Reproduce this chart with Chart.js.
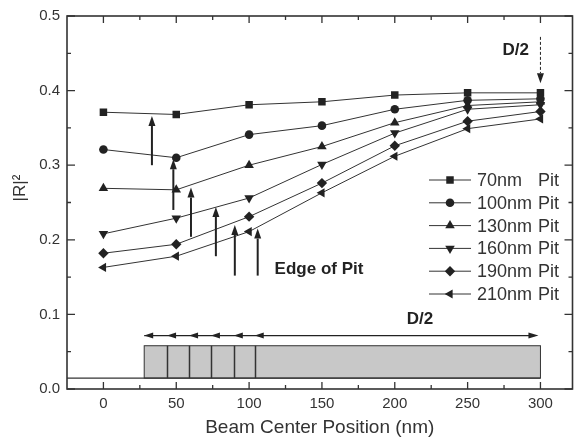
<!DOCTYPE html>
<html>
<head>
<meta charset="utf-8">
<script src="https://cdn.jsdelivr.net/npm/chart.js@4.4.0/dist/chart.umd.min.js"></script>
<style>
  body { margin: 0; background: #fff; }
  canvas { display: block; }
</style>
</head>
<body>
<canvas id="chart" width="578" height="439"></canvas>
<script>
// beam center positions (nm) and |R|^2 for each pit size
const positions = [0, 50, 100, 150, 200, 250, 300];
const pit70  = [0.371, 0.368, 0.381, 0.385, 0.394, 0.397, 0.397];
const pit100 = [0.321, 0.310, 0.341, 0.353, 0.375, 0.387, 0.389];
const pit130 = [0.269, 0.267, 0.300, 0.325, 0.357, 0.380, 0.385];
const pit160 = [0.208, 0.229, 0.256, 0.301, 0.343, 0.375, 0.381];
const pit190 = [0.182, 0.194, 0.231, 0.276, 0.326, 0.359, 0.372];
const pit210 = [0.163, 0.178, 0.211, 0.263, 0.312, 0.349, 0.362];
const pitNames = ['70nm', '100nm', '130nm', '160nm', '190nm', '210nm'];

const xTicks = [0, 50, 100, 150, 200, 250, 300];
const xMinor = [25, 75, 125, 175, 225, 275];
const yTicks = [0, 0.1, 0.2, 0.3, 0.4, 0.5];
const yMinor = [0.05, 0.15, 0.25, 0.35, 0.45];

// "edge of pit" arrows (data units)
const edgeArrowX    = [33.3, 48.0, 60.1, 77.2, 90.2, 105.9];
const edgeArrowFrom = [0.300, 0.240, 0.204, 0.178, 0.152, 0.152];
const edgeArrowTo   = [0.366, 0.308, 0.270, 0.244, 0.220, 0.215];
// pit edges drawn in the bar at the bottom
const pitEdges = [28, 43.7, 58.8, 73.8, 89.5, 103.9];
const halfD = 300;

const series = [pit70, pit100, pit130, pit160, pit190, pit210];
const markers = [
    { style: 'rect', rot: 0, r: 5.3 },
    { style: 'circle', rot: 0, r: 4.3 },
    { style: 'triangle', rot: 0, r: 5.5 },
    { style: 'triangle', rot: 180, r: 5.5 },
    { style: 'rectRot', rot: 0, r: 5.2 },
    { style: 'triangle', rot: -90, r: 5.3 }
];

const FONT = '"Liberation Sans", Arial, sans-serif';
const INK = '#222';

// arrow with a filled head at (x1, y1)
function arrow(ctx, x0, y0, x1, y1, len, half) {
    const ang = Math.atan2(y1 - y0, x1 - x0);
    const bx = x1 - Math.cos(ang) * len, by = y1 - Math.sin(ang) * len;
    ctx.beginPath();
    ctx.moveTo(x0, y0);
    ctx.lineTo(bx, by);
    ctx.stroke();
    ctx.beginPath();
    ctx.moveTo(x1, y1);
    ctx.lineTo(bx - Math.sin(ang) * half, by + Math.cos(ang) * half);
    ctx.lineTo(bx + Math.sin(ang) * half, by - Math.cos(ang) * half);
    ctx.closePath();
    ctx.fill();
}

const decor = {
    id: 'decor',
    beforeDatasetsDraw(chart) {
        const { ctx, chartArea: a, scales: { x, y } } = chart;
        ctx.save();
        // pit bar at the bottom
        const top = y.getPixelForValue(0.058), bot = y.getPixelForValue(0.0146);
        ctx.fillStyle = '#c8c8c8';
        ctx.fillRect(x.getPixelForValue(pitEdges[0]), top,
            x.getPixelForValue(halfD) - x.getPixelForValue(pitEdges[0]), bot - top);
        ctx.strokeStyle = '#333';
        ctx.lineWidth = 1;
        ctx.strokeRect(x.getPixelForValue(pitEdges[0]), top,
            x.getPixelForValue(halfD) - x.getPixelForValue(pitEdges[0]), bot - top);
        ctx.lineWidth = 1.5;
        pitEdges.slice(1).forEach(e => {
            const px = Math.round(x.getPixelForValue(e)) + 0.5;
            ctx.beginPath();
            ctx.moveTo(px, top);
            ctx.lineTo(px, bot);
            ctx.stroke();
        });
        ctx.lineWidth = 1.2;
        ctx.beginPath();
        ctx.moveTo(a.left, bot);
        ctx.lineTo(x.getPixelForValue(halfD), bot);
        ctx.stroke();

        // D/2 span arrow above the bar
        const ay = y.getPixelForValue(0.0716);
        ctx.fillStyle = INK;
        ctx.strokeStyle = INK;
        ctx.lineWidth = 1.2;
        ctx.beginPath();
        ctx.moveTo(x.getPixelForValue(pitEdges[0]), ay);
        ctx.lineTo(x.getPixelForValue(halfD) - 6, ay);
        ctx.stroke();
        pitEdges.forEach(e => {
            const px = x.getPixelForValue(e);
            arrow(ctx, px + 9, ay, px, ay, 9, 3);
        });
        arrow(ctx, x.getPixelForValue(halfD) - 12, ay, x.getPixelForValue(halfD) - 2, ay, 10, 3);
        ctx.restore();
    },
    afterDatasetsDraw(chart) {
        const { ctx, chartArea: a, scales: { x, y } } = chart;
        ctx.save();
        ctx.strokeStyle = '#333';
        ctx.fillStyle = INK;

        // frame and inward ticks on all four sides
        ctx.lineWidth = 1.6;
        ctx.strokeRect(a.left, a.top, a.right - a.left, a.bottom - a.top);
        ctx.lineWidth = 1.3;
        const vt = (v, len) => {
            const px = x.getPixelForValue(v);
            ctx.beginPath();
            ctx.moveTo(px, a.bottom); ctx.lineTo(px, a.bottom - len);
            ctx.moveTo(px, a.top); ctx.lineTo(px, a.top + len);
            ctx.stroke();
        };
        const ht = (v, len) => {
            const py = y.getPixelForValue(v);
            ctx.beginPath();
            ctx.moveTo(a.left, py); ctx.lineTo(a.left + len, py);
            ctx.moveTo(a.right, py); ctx.lineTo(a.right - len, py);
            ctx.stroke();
        };
        xTicks.forEach(v => vt(v, 7));
        xMinor.forEach(v => vt(v, 4));
        yTicks.forEach(v => ht(v, 8));
        yMinor.forEach(v => ht(v, 4));

        // edge of pit arrows
        ctx.strokeStyle = INK;
        ctx.lineWidth = 2;
        edgeArrowX.forEach((ex, i) => {
            const px = x.getPixelForValue(ex);
            arrow(ctx, px, y.getPixelForValue(edgeArrowFrom[i]), px, y.getPixelForValue(edgeArrowTo[i]), 10, 3.5);
        });

        // dotted D/2 arrow at the top right
        ctx.lineWidth = 1;
        ctx.setLineDash([3, 2]);
        const dx = x.getPixelForValue(halfD);
        ctx.beginPath();
        ctx.moveTo(dx, y.getPixelForValue(0.472));
        ctx.lineTo(dx, y.getPixelForValue(0.425));
        ctx.stroke();
        ctx.setLineDash([]);
        arrow(ctx, dx, y.getPixelForValue(0.425), dx, y.getPixelForValue(0.410), 10, 3.5);

        // labels
        ctx.textBaseline = 'middle';
        ctx.textAlign = 'center';
        ctx.font = 'bold 17px ' + FONT;
        ctx.fillText('D/2', x.getPixelForValue(283), y.getPixelForValue(0.4536));
        ctx.fillText('D/2', x.getPixelForValue(217.3), y.getPixelForValue(0.093));
        ctx.textAlign = 'left';
        ctx.fillText('Edge of Pit', x.getPixelForValue(117.5), y.getPixelForValue(0.160));

        // y axis title
        ctx.save();
        ctx.translate(20, 188);
        ctx.rotate(-Math.PI / 2);
        ctx.textAlign = 'center';
        ctx.font = '17px ' + FONT;
        ctx.fillStyle = '#333';
        ctx.fillText('|R|\u00b2', 0, 0);
        ctx.restore();

        // legend
        ctx.font = '18px ' + FONT;
        ctx.fillStyle = INK;
        ctx.lineWidth = 1;
        pitNames.forEach((name, i) => {
            const ly = 180 + i * 22.8;
            ctx.strokeStyle = '#333';
            ctx.beginPath();
            ctx.moveTo(429, ly); ctx.lineTo(471, ly);
            ctx.stroke();
            const m = markers[i];
            Chart.helpers.drawPoint(ctx, { pointStyle: m.style, rotation: m.rot, radius: m.r, borderWidth: 0 }, 450, ly);
            ctx.fillStyle = '#333';
            ctx.fillText(name, 477, ly + 1);
            ctx.fillText('Pit', 538, ly + 1);
            ctx.fillStyle = INK;
        });
        ctx.restore();
    }
};

function initializeChart() {
    const ctx = document.getElementById('chart').getContext('2d');
    new Chart(ctx, {
        type: 'line',
        data: {
            datasets: series.map((vals, i) => ({
                label: pitNames[i] + ' Pit',
                data: positions.map((p, j) => ({ x: p, y: vals[j] })),
                borderColor: '#333',
                borderWidth: 1,
                backgroundColor: INK,
                pointStyle: markers[i].style,
                rotation: markers[i].rot,
                pointRadius: markers[i].r,
                pointBorderWidth: 0,
                tension: 0
            }))
        },
        options: {
            responsive: false,
            animation: false,
            devicePixelRatio: 1,
            layout: { padding: { left: 0, top: 12, right: 4, bottom: 0 } },
            plugins: { legend: { display: false }, tooltip: { enabled: false } },
            scales: {
                x: {
                    type: 'linear',
                    min: -25,
                    max: 322,
                    afterBuildTicks: s => { s.ticks = xTicks.map(v => ({ value: v })); },
                    afterFit: s => { s.height = 50; },
                    grid: { display: false, drawTicks: false },
                    border: { display: false },
                    ticks: { autoSkip: false, maxRotation: 0, padding: 6, color: '#333', font: { family: FONT, size: 15 } },
                    title: { display: true, text: 'Beam Center Position (nm)', color: '#333', padding: 0, font: { family: FONT, size: 19 } }
                },
                y: {
                    min: 0,
                    max: 0.5,
                    afterBuildTicks: s => { s.ticks = yTicks.map(v => ({ value: v })); },
                    afterFit: s => { s.width = 67; },
                    grid: { display: false, drawTicks: false },
                    border: { display: false },
                    ticks: { padding: 7, color: '#333', font: { family: FONT, size: 15 }, callback: v => v.toFixed(1) }
                }
            }
        },
        plugins: [decor]
    });
}

window.onload = initializeChart;
</script>
</body>
</html>
